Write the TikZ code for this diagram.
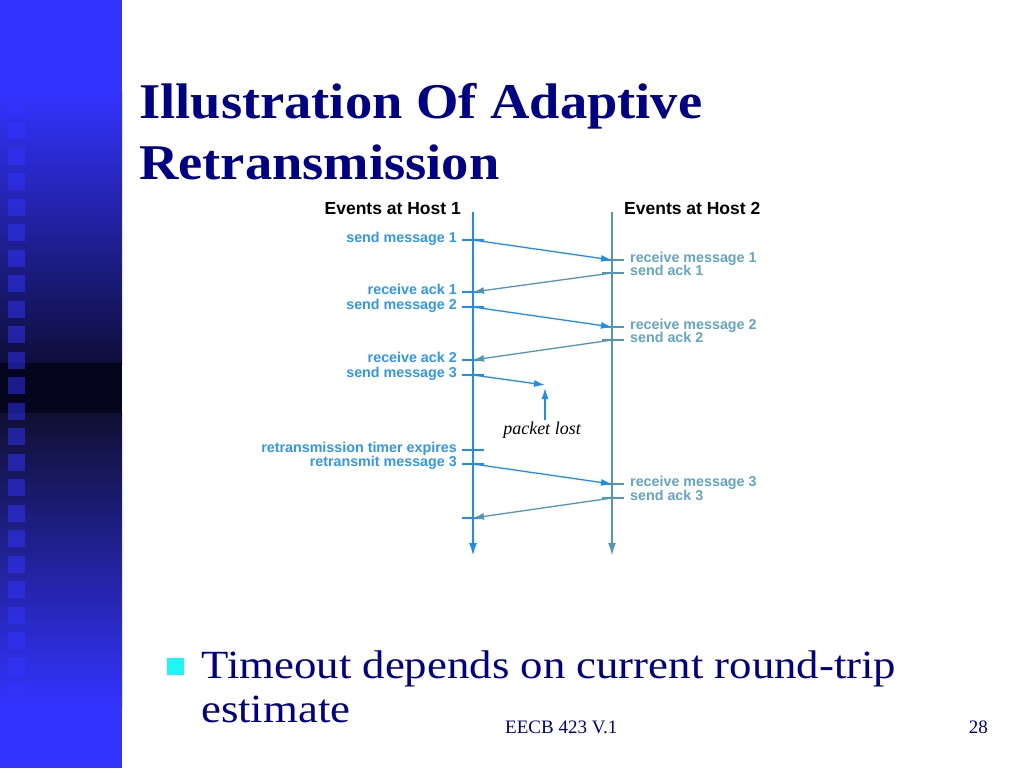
\documentclass[tikz,border=0pt]{standalone}
\usepackage{fontspec}
\setmainfont{Liberation Serif}
\newfontfamily\lsans{Liberation Sans}
\usetikzlibrary{arrows.meta}
\definecolor{navy}{RGB}{0,0,135}
\definecolor{barblue}{RGB}{51,51,255}
\definecolor{bardarkA}{RGB}{14,14,58}
\definecolor{bardark}{RGB}{4,4,28}
\definecolor{bardarkB}{RGB}{16,16,50}
\definecolor{bulletcyan}{RGB}{30,245,245}
\definecolor{hone}{RGB}{30,140,245}
\definecolor{honetxt}{RGB}{50,150,245}
\definecolor{htwo}{RGB}{80,150,185}
\definecolor{htwotxt}{RGB}{100,165,195}
\begin{document}
\begin{tikzpicture}[x=1pt,y=-1pt,
  titlefont/.style={font=\bfseries\fontsize{50}{56}\selectfont, text=navy, inner sep=0pt},
  bodyfont/.style={font=\fontsize{40}{46}\selectfont, text=navy, inner sep=0pt},
  footfont/.style={font=\fontsize{19}{22}\selectfont, text=navy, inner sep=0pt},
  headfont/.style={font=\lsans\bfseries\fontsize{17.5}{20}\selectfont, text=black, inner sep=0pt},
  labone/.style={font=\lsans\bfseries\fontsize{14.3}{16}\selectfont, text=honetxt, inner sep=0pt, text height=10.5pt, text depth=3pt, anchor=east, yshift=1.5pt},
  labtwo/.style={font=\lsans\bfseries\fontsize{14.3}{16}\selectfont, text=htwotxt, inner sep=0pt, text height=10.5pt, text depth=3pt, anchor=west, yshift=1.5pt},
  lostfont/.style={font=\itshape\fontsize{18}{20}\selectfont, text=black, inner sep=0pt},
  hostone/.style={draw=hone, line width=2.2pt, -{Latex[length=13pt,width=8pt]}},
  hosttwo/.style={draw=htwo, line width=2.2pt, -{Latex[length=13pt,width=8pt]}},
  tickone/.style={draw=hone, line width=1.3pt},
  ticktwo/.style={draw=htwo, line width=1.3pt},
  msg/.style={draw=hone, line width=1.3pt, -{Latex[length=11pt,width=7pt]}},
  ack/.style={draw=htwo, line width=1.3pt, -{Latex[length=11pt,width=7pt]}},
]
\useasboundingbox (0,0) rectangle (1024,768);
\fill[white] (0,0) rectangle (1024,768);
% left bar
\fill[barblue] (0,0) rectangle (122,93);
\shade[top color=barblue, bottom color=bardarkA] (0,92) rectangle (122,364);
\fill[bardark] (0,363) rectangle (122,414);
\shade[top color=bardarkB, bottom color=barblue] (0,413) rectangle (122,706);
\fill[barblue] (0,705) rectangle (122,768);
\foreach \k in {-1,...,23} {
  \fill[barblue, opacity=0.5] (8,{122+25.5*\k}) rectangle ++(17,17);
}
% title
\node[titlefont, anchor=base west] (t1) at (139,118.5) {\scalebox{1.09}[1]{Illustration Of Adaptive}};
\node[titlefont, anchor=base west] (t2) at (139,179) {\scalebox{1.09}[1]{Retransmission}};
% bullet
\fill[bulletcyan] (167,658) rectangle (184,675);
\node[bodyfont, anchor=base west] (b1) at (201,678) {\scalebox{1.12}[1]{Timeout depends on current round-trip}};
\node[bodyfont, anchor=base west] (b2) at (201,722) {\scalebox{1.12}[1]{estimate}};
% footer
\node[footfont, anchor=base west] (f1) at (505,733) {EECB 423 V.1};
\node[footfont, anchor=base east] (f2) at (988,733) {28};
% diagram headers and host lines
\node[headfont, anchor=base east] (H1) at (461,214) {Events at Host 1};
\node[headfont, anchor=base west] (H2) at (624,214) {Events at Host 2};
\coordinate (h1top) at (473,212);
\coordinate (h1bot) at (473,556);
\coordinate (h2top) at (612,212);
\coordinate (h2bot) at (612,556);
\draw[hostone] (h1top) -- (h1bot);
\draw[hosttwo] (h2top) -- (h2bot);
% events at host 1
\coordinate (sm1) at (473,240);
\coordinate (ra1) at (473,292);
\coordinate (sm2) at (473,307);
\coordinate (ra2) at (473,360);
\coordinate (sm3) at (473,375);
\coordinate (rte) at (473,450);
\coordinate (rsm3) at (473,464);
\coordinate (ra3) at (473,518);
% events at host 2
\coordinate (rm1) at (612,260);
\coordinate (sa1) at (612,273);
\coordinate (rm2) at (612,327);
\coordinate (sa2) at (612,340);
\coordinate (rm3) at (612,484);
\coordinate (sa3) at (612,498);
\foreach \c in {sm1,ra1,sm2,ra2,sm3,rte,rsm3,ra3} {
  \draw[tickone] ([xshift=-11pt]\c) -- ([xshift=11pt]\c);
}
\foreach \c in {rm1,sa1,rm2,sa2,rm3,sa3} {
  \draw[ticktwo] ([xshift=-10pt]\c) -- ([xshift=12pt]\c);
}
% labels
\node[labone] (Lsm1) at ([xshift=-16pt]sm1) {send message 1};
\node[labone] (Lra1) at ([xshift=-16pt]ra1) {receive ack 1};
\node[labone] (Lsm2) at ([xshift=-16pt]sm2) {send message 2};
\node[labone] (Lra2) at ([xshift=-16pt]ra2) {receive ack 2};
\node[labone] (Lsm3) at ([xshift=-16pt]sm3) {send message 3};
\node[labone] (Lrte) at ([xshift=-16pt]rte) {retransmission timer expires};
\node[labone] (Lrsm3) at ([xshift=-16pt]rsm3) {retransmit message 3};
\node[labtwo] (Lrm1) at ([xshift=18pt]rm1) {receive message 1};
\node[labtwo] (Lsa1) at ([xshift=18pt]sa1) {send ack 1};
\node[labtwo] (Lrm2) at ([xshift=18pt]rm2) {receive message 2};
\node[labtwo] (Lsa2) at ([xshift=18pt]sa2) {send ack 2};
\node[labtwo] (Lrm3) at ([xshift=18pt]rm3) {receive message 3};
\node[labtwo] (Lsa3) at ([xshift=18pt]sa3) {send ack 3};
% messages
\draw[msg] (sm1) -- (rm1);
\draw[ack] (sa1) -- (ra1);
\draw[msg] (sm2) -- (rm2);
\draw[ack] (sa2) -- (ra2);
\coordinate (lost) at (545,385);
\draw[msg] (sm3) -- (lost);
\draw[msg] (rsm3) -- (rm3);
\draw[ack] (sa3) -- (ra3);
% packet lost
\node[lostfont] (pl) at (542,430) {packet lost};
\coordinate (lostbase) at (pl.north -| lost);
\draw[msg] ([yshift=2pt]lostbase) -- ([yshift=-3pt]lost);
\end{tikzpicture}
\end{document}
